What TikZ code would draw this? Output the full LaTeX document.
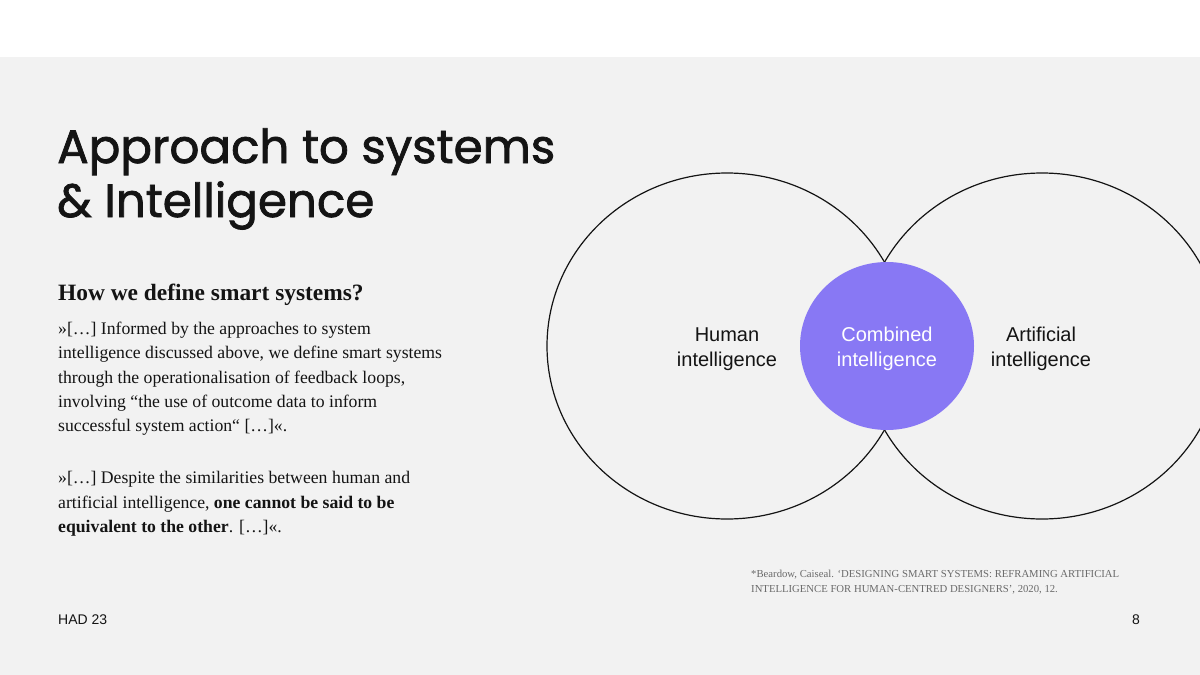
\documentclass[tikz,border=0pt]{standalone}
\usepackage{fontspec}
\setmainfont{Liberation Serif}
\newfontfamily\titlefont{Poppins}[FakeBold=1.6]
\newfontfamily\labelfont{Liberation Sans}
\usetikzlibrary{shapes.geometric}
\definecolor{bggrey}{HTML}{F2F2F2}
\definecolor{purp}{RGB}{136,120,244}
\definecolor{ink}{HTML}{141414}
\definecolor{notegrey}{HTML}{6A6A6A}
\tikzset{
  ring/.style={draw=ink, ellipse, line width=1.2pt, inner sep=0pt, outer sep=0pt},
  blob/.style={fill=purp, ellipse, inner sep=0pt, outer sep=0pt},
  lbl/.style={font=\labelfont\fontsize{20}{25}\selectfont, align=center, text=ink, inner sep=0pt},
  titleline/.style={anchor=base west, inner sep=0pt, text=ink, font=\titlefont\fontsize{46.8}{54}\selectfont},
  headline/.style={anchor=base west, inner sep=0pt, text=ink, font=\fontsize{23.4}{27}\selectfont\bfseries},
  bodyline/.style={anchor=base west, inner sep=0pt, text=ink, font=\fontsize{17.7}{24}\selectfont},
  noteline/.style={anchor=base west, inner sep=0pt, text=notegrey, font=\fontsize{10.7}{15}\selectfont},
  footline/.style={inner sep=0pt, text=ink, font=\labelfont\fontsize{14}{16}\selectfont}
}
\begin{document}
\begin{tikzpicture}[x=1pt,y=-1pt]
\useasboundingbox (0,0) rectangle (1200,675);
\clip (0,0) rectangle (1200,675);
\fill[white] (0,0) rectangle (1200,57);
\fill[bggrey] (0,57) rectangle (1200,675);

% Venn circles
\node[ring, minimum width=360pt, minimum height=346pt] (human) at (727,346) {};
\node[ring, minimum width=360pt, minimum height=346pt] (artificial) at (1042,346) {};
\node[blob, minimum width=174pt, minimum height=168pt] (combined) at (887,346) {};

\node[lbl] (humanlbl) at (727,349) {Human\\intelligence};
\node[lbl, text=white] (comblbl) at (887,349) {Combined\\intelligence};
\node[lbl] (artlbl) at (1041,349) {Artificial\\intelligence};

% Title
\node[titleline] (t1) at (57,163) {Approach to systems};
\node[titleline] (t2) at (57,217) {\& Intelligence};

% Heading
\node[headline] (h1) at (58,300) {How we define smart systems?};

% Paragraph 1
\node[bodyline] (a1) at (58,334) {»[…] Informed by the approaches to system};
\node[bodyline] (a2) at (58,358) {intelligence discussed above, we define smart systems};
\node[bodyline] (a3) at (58,383) {through the operationalisation of feedback loops,};
\node[bodyline] (a4) at (58,407) {involving “the use of outcome data to inform};
\node[bodyline] (a5) at (58,431) {successful system action“ […]«.};

% Paragraph 2
\node[bodyline] (b1) at (58,483) {»[…] Despite the similarities between human and};
\node[bodyline] (b2) at (58,508) {artificial intelligence, \textbf{one cannot be said to be}};
\node[bodyline] (b3) at (58,532) {\textbf{equivalent to the other}. […]«.};

% Footnote
\node[noteline] (n1) at (751,577) {*Beardow, Caiseal. ‘DESIGNING SMART SYSTEMS: REFRAMING ARTIFICIAL};
\node[noteline] (n2) at (751,592) {INTELLIGENCE FOR HUMAN-CENTRED DESIGNERS’, 2020, 12.};

% Footer
\node[footline, anchor=base west] (had) at (58,624) {HAD 23};
\node[footline, anchor=base east] (page) at (1140,624) {8};
\end{tikzpicture}
\end{document}
